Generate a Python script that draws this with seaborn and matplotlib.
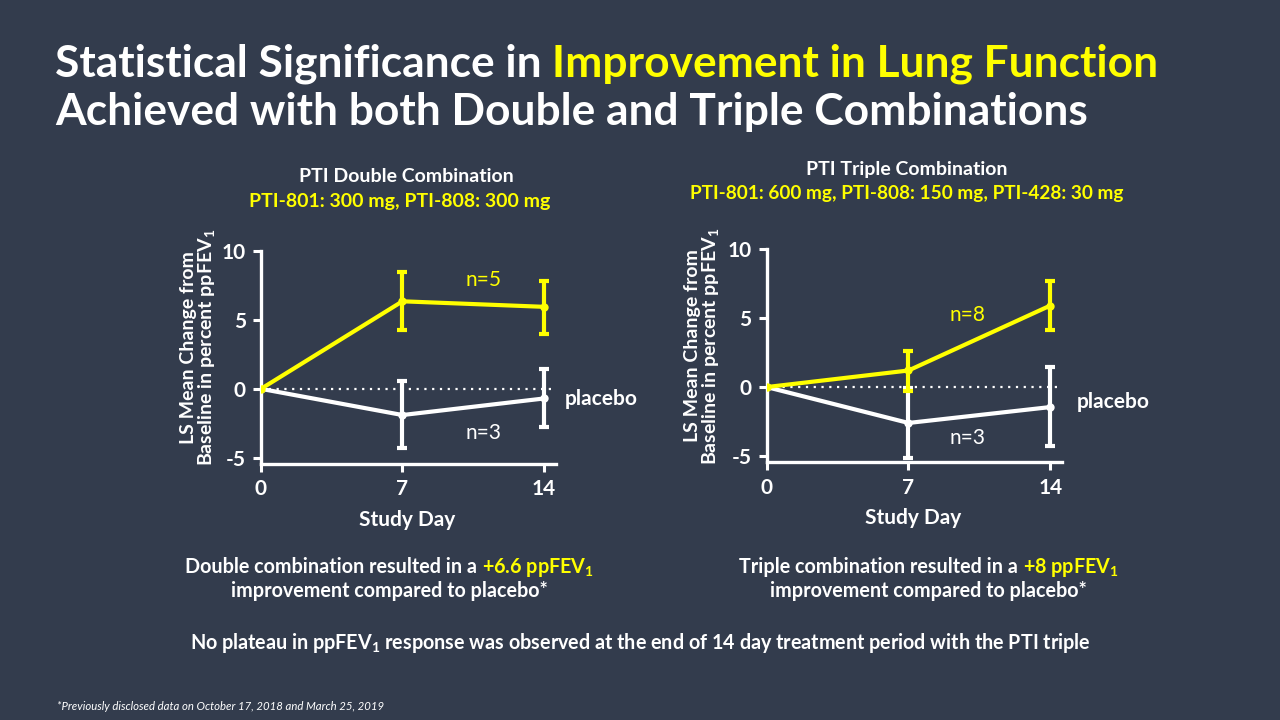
#!/usr/bin/env python3
# PTI double / triple combination: ppFEV1 change from baseline by study day
import numpy as np
import pandas as pd
import matplotlib
matplotlib.use("Agg")
import matplotlib.pyplot as plt
import seaborn as sns

# --- data ---
days = [0, 7, 14]

double_active = [0.0, 6.35, 5.95]
double_active_lo = [0.0, 4.25, 4.0]
double_active_hi = [0.0, 8.45, 7.85]
double_placebo = [0.0, -1.9, -0.7]
double_placebo_lo = [0.0, -4.3, -2.8]
double_placebo_hi = [0.0, 0.6, 1.45]

triple_active = [0.0, 1.2, 5.9]
triple_active_lo = [0.0, -0.3, 4.15]
triple_active_hi = [0.0, 2.6, 7.65]
triple_placebo = [0.0, -2.6, -1.45]
triple_placebo_lo = [0.0, -5.15, -4.25]
triple_placebo_hi = [0.0, -0.05, 1.45]

y_ticks = [-5, 0, 5, 10]
x_ticks = [0, 7, 14]

BG = "#333C4D"
YEL = "#FFFF00"
WHITE = "#FFFFFF"

sns.set_theme(style="white")
plt.rcParams["font.family"] = ["Lato", "DejaVu Sans"]
plt.rcParams["mathtext.default"] = "regular"

fig = plt.figure(figsize=(12.8, 7.2), dpi=100, facecolor=BG)
W, H = 1280, 720


def colored_line(x, y, parts, ha="left", **kw):
    """Put several differently coloured pieces of text on one baseline."""
    renderer = fig.canvas.get_renderer()
    bar = fig.text(0, 0, "|", **kw)
    bar_w = bar.get_window_extent(renderer).width
    bar.remove()
    offsets = []
    prefix = ""
    for s, _ in parts:
        t = fig.text(0, 0, prefix + "|", **kw)
        offsets.append(t.get_window_extent(renderer).width - bar_w)
        t.remove()
        prefix += s
    t = fig.text(0, 0, prefix, **kw)
    total = t.get_window_extent(renderer).width
    t.remove()
    start = x * W - (total / 2 if ha == "center" else 0)
    for (s, c), off in zip(parts, offsets):
        fig.text((start + off) / W, y, s, color=c, va="baseline", ha="left", **kw)


def panel(rect, active, a_lo, a_hi, placebo, p_lo, p_hi, n_act, n_act_xy,
          n_pl_xy, placebo_xy, ylab_x):
    ax = fig.add_axes(rect)
    ax.set_facecolor(BG)
    df = pd.DataFrame({
        "day": days * 2,
        "value": placebo + active,
        "group": ["placebo"] * 3 + ["active"] * 3,
    })
    ax.axhline(0, color=WHITE, lw=1.6, ls=(0, (1, 2.5)), zorder=1)
    sns.lineplot(data=df, x="day", y="value", hue="group",
                 palette={"placebo": WHITE, "active": YEL},
                 lw=3, marker="o", markersize=6, markeredgewidth=0,
                 legend=False, ax=ax, zorder=3)
    for vals, lo, hi, col, z in [(placebo, p_lo, p_hi, WHITE, 2),
                                 (active, a_lo, a_hi, YEL, 4)]:
        v = np.array(vals)
        err = np.vstack([v - np.array(lo), np.array(hi) - v])
        ax.errorbar(days[1:], v[1:], yerr=err[:, 1:], fmt="none", ecolor=col,
                    elinewidth=3, capsize=3.5, capthick=3, zorder=z)
    # yellow line on top of the white one
    for line in ax.get_lines():
        if line.get_color() == YEL:
            line.set_zorder(5)

    ax.set_xlim(0, 14.6)
    ax.set_ylim(-5.45, 10)
    ax.set_xticks(x_ticks)
    ax.set_yticks(y_ticks)
    ax.set_xticklabels([str(t) for t in x_ticks])
    ax.set_yticklabels([str(t) for t in y_ticks])
    for side in ["top", "right"]:
        ax.spines[side].set_visible(False)
    for side in ["left", "bottom"]:
        ax.spines[side].set_color(WHITE)
        ax.spines[side].set_linewidth(2.4)
    ax.tick_params(colors=WHITE, width=2.2, length=6, labelsize=15, pad=5,
                   left=True, bottom=True)
    for lab in ax.get_xticklabels() + ax.get_yticklabels():
        lab.set_fontweight("bold")
    ax.set_xlabel("Study Day", color=WHITE, fontsize=15, fontweight="bold")
    ax.xaxis.set_label_coords(0.495, -0.215)
    ax.set_ylabel("LS Mean Change from\nBaseline in percent ppFEV$_1$",
                  color=WHITE, fontsize=14, fontweight="bold", linespacing=0.95)
    ax.yaxis.set_label_coords(ylab_x, 0.545)
    for sp in ax.spines.values():
        sp.set_clip_on(False)

    ax.text(*n_act_xy, n_act, color=YEL, fontsize=15, ha="center", va="center")
    ax.text(*n_pl_xy, "n=3", color=WHITE, fontsize=15, ha="center", va="center")
    ax.text(*placebo_xy, "placebo", color=WHITE, fontsize=15,
            fontweight="bold", ha="center", va="center", clip_on=False)
    return ax


panel([0.2039, 0.3556, 0.2305, 0.2958],
      double_active, double_active_lo, double_active_hi,
      double_placebo, double_placebo_lo, double_placebo_hi,
      "n=5", (11.0, 7.9), (11.0, -3.2), (16.85, -0.75), -0.15)
panel([0.599, 0.3579, 0.231, 0.2963],
      triple_active, triple_active_lo, triple_active_hi,
      triple_placebo, triple_placebo_lo, triple_placebo_hi,
      "n=8", (9.9, 5.2), (9.9, -3.7), (17.1, -1.1), -0.153)

# --- title ---
title_kw = dict(fontsize=31.9, fontweight="bold")
colored_line(55 / W, 1 - 76 / H,
             [("Statistical Significance in ", WHITE),
              ("Improvement in Lung Function", YEL)], **title_kw)
fig.text(55 / W, 1 - 125 / H,
         "Achieved with both Double and Triple Combinations",
         color=WHITE, va="baseline", **title_kw)

# --- panel headers ---
hdr = dict(fontsize=14, fontweight="bold", ha="center", va="center")
fig.text(406 / W, 1 - 177 / H, "PTI Double Combination", color=WHITE, **hdr)
fig.text(400 / W, 1 - 202 / H, "PTI-801: 300 mg, PTI-808: 300 mg", color=YEL, **hdr)
fig.text(907 / W, 1 - 169 / H, "PTI Triple Combination", color=WHITE, **hdr)
fig.text(907 / W, 1 - 194 / H, "PTI-801: 600 mg, PTI-808: 150 mg, PTI-428: 30 mg",
         color=YEL, fontsize=13.7, fontweight="bold", ha="center", va="center")

# --- conclusions ---
body = dict(fontsize=14.2, fontweight="bold")
colored_line(389 / W, 1 - 573 / H,
             [("Double combination resulted in a ", WHITE),
              ("+6.6 ppFEV$_1$", YEL)], ha="center", **body)
fig.text(389 / W, 1 - 597 / H, "improvement compared to placebo*", color=WHITE,
         ha="center", va="baseline", **body)
colored_line(928 / W, 1 - 573 / H,
             [("Triple combination resulted in a ", WHITE),
              ("+8 ppFEV$_1$", YEL)], ha="center", **body)
fig.text(928 / W, 1 - 597 / H, "improvement compared to placebo*", color=WHITE,
         ha="center", va="baseline", **body)
fig.text(640 / W, 1 - 649 / H,
         "No plateau in ppFEV$_1$ response was observed at the end of 14 day "
         "treatment period with the PTI triple",
         color=WHITE, ha="center", va="baseline", **body)

fig.text(57 / W, 1 - 710 / H,
         "*Previously disclosed data on October 17, 2018 and March 25, 2019",
         color=WHITE, fontsize=8.2, fontstyle="italic", va="baseline")

fig.savefig("out.png", dpi=100, facecolor=BG)
